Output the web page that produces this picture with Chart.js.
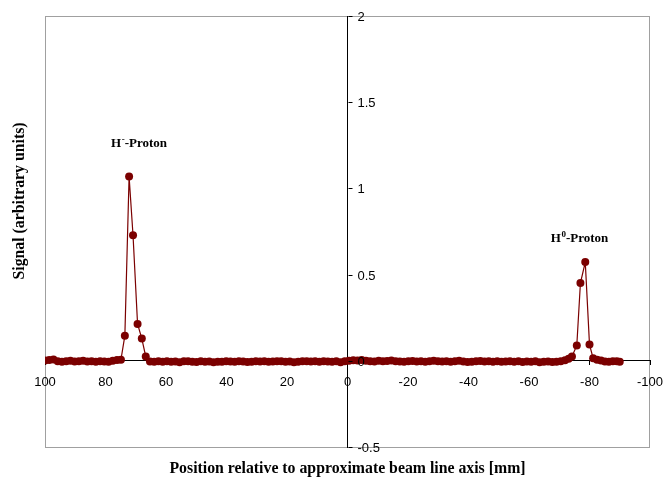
<!DOCTYPE html>
<html>
<head>
<meta charset="utf-8">
<script src="https://cdn.jsdelivr.net/npm/chart.js@4/dist/chart.umd.min.js"></script>
<style>
  html, body { margin: 0; padding: 0; background: #fff; }
  #wrap { width: 671px; height: 479px; }
</style>
</head>
<body>
<div id="wrap"><canvas id="profile" width="671" height="479"></canvas></div>
<script>
// beam profile scan: position [mm] vs. signal
var positions = [
  100.0, 98.6, 97.2, 95.8, 94.4, 93.0, 91.6, 90.2, 88.8, 87.4,
  86.0, 84.6, 83.2, 81.8, 80.4, 79.0, 77.6, 76.2, 74.9,
  73.6, 72.2, 70.9, 69.4, 68.0, 66.7,
  65.3, 63.9, 62.5, 61.1, 59.7, 58.3, 56.9, 55.5, 54.1, 52.7,
  51.3, 49.9, 48.5, 47.1, 45.7, 44.3, 42.9, 41.5, 40.1, 38.7,
  37.3, 35.9, 34.5, 33.1, 31.7, 30.3, 28.9, 27.5, 26.1, 24.7,
  23.3, 21.9, 20.5, 19.1, 17.7, 16.3, 14.9, 13.5, 12.1, 10.7,
  9.3, 7.9, 6.5, 5.1, 3.7, 2.3, 0.9, -0.5, -1.9, -3.3,
  -4.7, -6.1, -7.5, -8.9, -10.3, -11.7, -13.1, -14.5, -15.9, -17.3,
  -18.7, -20.1, -21.5, -22.9, -24.3, -25.7, -27.1, -28.5, -29.9, -31.3,
  -32.7, -34.1, -35.5, -36.9, -38.3, -39.7, -41.1, -42.5, -43.9, -45.3,
  -46.7, -48.1, -49.5, -50.9, -52.3, -53.7, -55.1, -56.5, -57.9, -59.3,
  -60.7, -62.1, -63.5, -64.9, -66.3, -67.7, -69.1, -70.5, -71.9,
  -73.1, -74.2, -75.8, -77.0, -78.6, -80.0,
  -81.2, -82.5, -83.8, -85.1, -86.4, -87.7, -89.0, -90.0
];
var signal = [
  0.002, 0.004, 0.008, -0.002, -0.005, -0.003, 0.000, -0.004, -0.002, 0.001,
  -0.004, -0.003, -0.006, -0.002, -0.004, -0.006, 0.001, 0.004, 0.006,
  0.146, 1.069, 0.728, 0.214, 0.129, 0.025,
  -0.004, -0.006, -0.003, -0.005, -0.002, -0.006, -0.004, -0.009, -0.003, -0.002,
  -0.005, -0.007, -0.003, -0.006, -0.004, -0.008, -0.005, -0.006, -0.002, -0.004,
  -0.006, -0.003, -0.004, -0.007, -0.005, -0.002, -0.004, -0.003, -0.006, -0.004,
  -0.002, -0.003, -0.006, -0.004, -0.008, -0.005, -0.003, -0.002, -0.004, -0.003,
  -0.005, -0.002, -0.004, -0.006, -0.003, -0.008, -0.002, 0.001, 0.003, 0.002,
  0.004, 0.001, -0.002, -0.004, 0.000, -0.003, -0.001, 0.002, -0.002, -0.004,
  -0.006, -0.003, -0.001, -0.004, -0.002, -0.005, -0.003, 0.001, -0.002, -0.004,
  -0.003, -0.006, -0.002, 0.000, -0.004, -0.007, -0.005, -0.003, -0.001, -0.004,
  -0.002, -0.005, -0.003, -0.006, -0.004, -0.002, -0.005, -0.003, -0.007, -0.004,
  -0.005, -0.003, -0.008, -0.006, -0.004, -0.007, -0.005, -0.002, 0.003,
  0.012, 0.025, 0.089, 0.451, 0.573, 0.094,
  0.015, 0.006, 0.002, -0.004, -0.006, -0.003, -0.002, -0.005
];

var xTicks = [100, 80, 60, 40, 20, 0, -20, -40, -60, -80, -100];
var yTicks = [-0.5, 0, 0.5, 1, 1.5, 2];
var yTickLabels = ['-0.5', '0', '0.5', '1', '1.5', '2'];

// peak names, placed in data coordinates
var peakNames = ['H', 'H'];
var peakSups = ['-', '0'];
var peakSuffix = ['-Proton', '-Proton'];
var peakX = [68.9, -76.7];
var peakY = [1.242, 0.691];

var xTitle = 'Position relative to approximate beam line axis [mm]';
var yTitle = 'Signal (arbitrary units)';

var points = positions.map(function(p, i) {
  return { x: p, y: signal[i] };
});

var darkRed = '#7b0000';

var frameAndText = {
  id: 'frameAndText',
  beforeDraw: function(chart) {
    var ctx = chart.ctx;
    var a = chart.chartArea;
    ctx.save();
    ctx.strokeStyle = '#a0a0a0';
    ctx.lineWidth = 1;
    ctx.strokeRect(a.left + 0.5, a.top + 0.5, a.right - a.left - 1, a.bottom - a.top);
    ctx.restore();
  },
  afterDraw: function(chart) {
    var ctx = chart.ctx;
    var a = chart.chartArea;
    var xs = chart.scales.x;
    var ys = chart.scales.y;
    var x0 = Math.round(xs.getPixelForValue(0)) + 0.5;
    ctx.save();

    // y ticks sit on the right of the centre axis
    ctx.strokeStyle = '#000';
    ctx.lineWidth = 1;
    ctx.fillStyle = '#000';
    ctx.font = '13px "Liberation Sans", Arial, sans-serif';
    ctx.textAlign = 'left';
    ctx.textBaseline = 'middle';
    yTicks.forEach(function(v, i) {
      var py = Math.round(ys.getPixelForValue(v)) + 0.5;
      ctx.beginPath();
      ctx.moveTo(x0, py);
      ctx.lineTo(x0 + 4, py);
      ctx.stroke();
      ctx.fillText(yTickLabels[i], x0 + 9, py + 1);
    });

    // axis titles
    ctx.font = 'bold 15.8px "Liberation Serif", "Times New Roman", serif';
    ctx.textAlign = 'center';
    ctx.textBaseline = 'middle';
    ctx.fillText(xTitle, (a.left + a.right) / 2, 469);
    ctx.save();
    ctx.translate(20, 201);
    ctx.rotate(-Math.PI / 2);
    ctx.fillText(yTitle, 0, 0);
    ctx.restore();

    // peak names with superscripts
    ctx.textAlign = 'left';
    ctx.textBaseline = 'alphabetic';
    peakNames.forEach(function(name, i) {
      var big = 'bold 13px "Liberation Serif", "Times New Roman", serif';
      var small = 'bold 9px "Liberation Serif", "Times New Roman", serif';
      ctx.font = big;
      var w1 = ctx.measureText(name).width;
      var w3 = ctx.measureText(peakSuffix[i]).width;
      ctx.font = small;
      var w2 = ctx.measureText(peakSups[i]).width + 0.5;
      var total = w1 + w2 + w3;
      var px = xs.getPixelForValue(peakX[i]) - total / 2;
      var py = ys.getPixelForValue(peakY[i]);
      ctx.font = big;
      ctx.fillText(name, px, py);
      ctx.font = small;
      ctx.fillText(peakSups[i], px + w1 + 0.5, py - 5);
      ctx.font = big;
      ctx.fillText(peakSuffix[i], px + w1 + w2, py);
    });
    ctx.restore();
  }
};

var canvas = document.getElementById('profile');
var chart = new Chart(canvas, {
  type: 'scatter',
  data: {
    datasets: [{
      data: points,
      showLine: true,
      borderColor: darkRed,
      backgroundColor: darkRed,
      borderWidth: 1.2,
      pointRadius: 4,
      pointBorderWidth: 0,
      pointHoverRadius: 4
    }]
  },
  options: {
    responsive: false,
    animation: false,
    events: [],
    layout: { autoPadding: false, padding: { left: 45, right: 21, top: 16, bottom: 32 } },
    plugins: {
      legend: { display: false },
      tooltip: { enabled: false }
    },
    scales: {
      x: {
        type: 'linear',
        reverse: true,
        min: -100,
        max: 100,
        position: { y: 0 },
        afterBuildTicks: function(scale) {
          scale.ticks = xTicks.map(function(v) { return { value: v }; });
        },
        // end labels fit inside the fixed layout padding
        afterFit: function(scale) {
          scale.paddingLeft = 0;
          scale.paddingRight = 0;
        },
        ticks: {
          autoSkip: false,
          maxRotation: 0,
          padding: 10,
          color: '#000',
          font: { family: '"Liberation Sans", Arial, sans-serif', size: 13 }
        },
        grid: { drawOnChartArea: false, tickLength: 4, color: '#000' },
        border: { color: '#000', width: 1 }
      },
      y: {
        type: 'linear',
        min: -0.5,
        max: 2,
        position: { x: 0 },
        ticks: { display: false, stepSize: 0.5 },
        grid: { drawOnChartArea: false, drawTicks: false, color: '#000' },
        border: { color: '#000', width: 1 }
      }
    }
  },
  plugins: [frameAndText]
});
</script>
</body>
</html>
